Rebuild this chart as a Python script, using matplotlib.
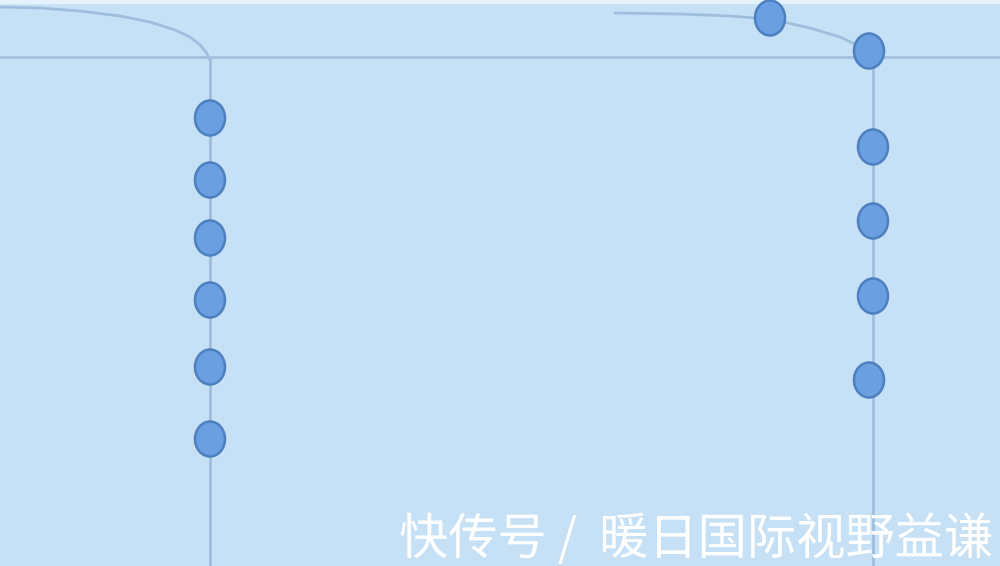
import matplotlib
matplotlib.use("Agg")
import matplotlib.pyplot as plt
from matplotlib.patches import Ellipse

plt.rcParams['font.family'] = ['Noto Sans CJK SC', 'DejaVu Sans']

# node positions (pixel-space coordinates of the diagram)
left_x = [210, 210, 210, 210, 210, 210]
left_y = [118, 180, 238, 300, 367, 439]
right_x = [770, 869, 873, 873, 873, 869]
right_y = [18, 51, 147, 221, 296, 380]

# connector curves
curve_left_x = [0, 40, 80, 120, 150, 175, 190, 200, 206, 210]
curve_left_y = [7, 8, 11, 16, 22, 30, 37, 45, 52, 60]
curve_right_x = [615, 680, 730, 770, 810, 840, 869]
curve_right_y = [13, 14, 16, 19, 28, 37, 51]

watermark = "快传号 /  暖日国际视野益谦"

bg = "#c6e1f6"
line_c = "#9fbddd"
face = "#6a9fe1"
edge = "#4e7fbf"

fig = plt.figure(figsize=(10, 5.66), dpi=100)
ax = fig.add_axes([0, 0, 1, 1])
ax.set_facecolor(bg)
fig.patch.set_facecolor(bg)
ax.set_xlim(0, 1000)
ax.set_ylim(566, 0)
ax.axis('off')
ax.add_patch(plt.Rectangle((0, 0), 1000, 566, color=bg, zorder=0))
ax.add_patch(plt.Rectangle((0, 0), 1000, 3, color="#e6f2fb", zorder=0.5))

ax.axhline(57, color="#a3c0de", lw=2, zorder=1)
ax.plot(curve_left_x, curve_left_y, color=line_c, lw=2, zorder=1, solid_capstyle='round')
ax.plot([210, 210], [60, 566], color=line_c, lw=2, zorder=1)
ax.plot(curve_right_x, curve_right_y, color=line_c, lw=2, zorder=1, solid_capstyle='round')
ax.plot([873, 873], [51, 566], color=line_c, lw=2, zorder=1)

for x, y in zip(left_x + right_x, left_y + right_y):
    ax.add_patch(Ellipse((x, y), 30, 35, facecolor=face, edgecolor=edge, lw=1.8, zorder=3))

ax.text(993, 566, watermark, color="white", fontsize=35.5, ha='right', va='bottom',
        zorder=4, fontweight='light')

fig.savefig("out.png", dpi=100, facecolor=bg)
